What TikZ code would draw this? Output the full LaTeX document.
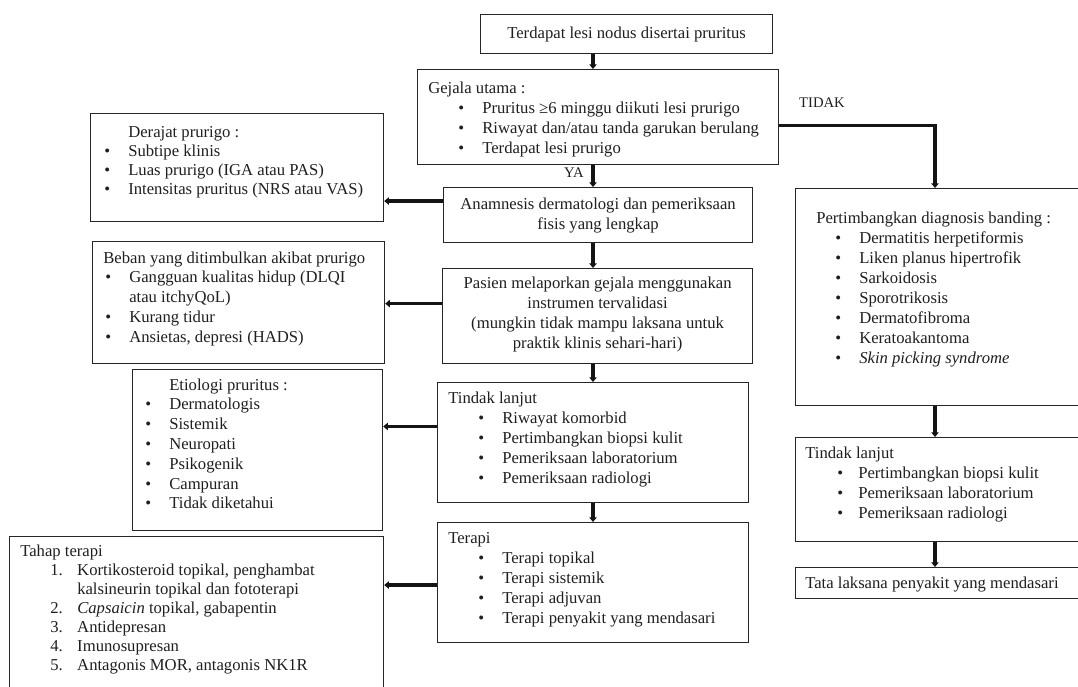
\documentclass[tikz,border=0pt]{standalone}
\usepackage{fontspec}
\setmainfont{Liberation Serif}
\usetikzlibrary{arrows.meta,calc}
\newlength\px \setlength\px{0.75pt}
\newcommand\bul[3]{\hspace*{#1\px}\makebox[#2\px][l]{\textbullet}#3}
\newcommand\numi[4]{\hspace*{#1\px}\makebox[#2\px][l]{#3}#4}
\newcommand\bx[5]{\node[box, minimum width={(#4-#2)*0.75pt}, minimum height={(#5-#3)*0.75pt}] (#1) at (#2,#3) {};}
\newcommand\lns[5]{\foreach \t [count=\i from 0] in {#5} {\node[ln] (#1-\i) at (#2,{#3+\i*#4}) {\t};}}
\begin{document}
\begin{tikzpicture}[x=0.75pt,y=-0.75pt,
  box/.style={draw=black!85, line width=0.9pt, inner sep=0, anchor=north west},
  ln/.style={anchor=base west, inner sep=0, font=\fontsize{12.5}{15}\selectfont, text=black!88},
  ctr/.style={align=center, inner sep=0, font=\fontsize{12.5}{15}\selectfont, text=black!88},
  arr/.style={line width=2.5pt, draw=black!92, -{Triangle[length=3.5pt,width=5.5pt]}},
  lbl/.style={font=\fontsize{11}{13}\selectfont, text=black!88, inner sep=0}]
\useasboundingbox (0,0) rectangle (1078,686);
\clip (0,0) rectangle (1078,686);
\fill[white] (0,0) rectangle (1078,686);

% boxes
\bx{b1}{480}{14}{772}{53}
\bx{b2}{417}{69}{778}{164}
\bx{b3}{443}{187}{752}{242}
\bx{b4}{442}{268}{752}{363}
\bx{b5}{437}{382}{748}{502}
\bx{b6}{437}{522}{748}{642}
\bx{b7}{90}{113}{383}{221}
\bx{b8}{92}{241}{384}{363}
\bx{b9}{132}{369}{382}{530}
\bx{b10}{9}{536}{383}{700}
\bx{b11}{795}{188}{1090}{405}
\bx{b12}{795}{437}{1090}{541}
\bx{b13}{795}{567}{1090}{598}

% texts
\node[ctr] (t1) at (b1.center) {Terdapat lesi nodus disertai pruritus};
\lns{t2}{428}{93}{20}{{Gejala utama :},{\bul{30}{24}{Pruritus ≥6 minggu diikuti lesi prurigo}},{\bul{30}{24}{Riwayat dan/atau tanda garukan berulang}},{\bul{30}{24}{Terdapat lesi prurigo}}}
\node[ctr] (t3) at (b3.center) {Anamnesis dermatologi dan pemeriksaan\\fisis yang lengkap};
\node[ctr] (t4) at ([yshift=1.5pt]b4.center) {Pasien melaporkan gejala menggunakan\\instrumen tervalidasi\\(mungkin tidak mampu laksana untuk\\praktik klinis sehari-hari)};
\lns{t5}{448}{403}{20}{{Tindak lanjut},{\bul{30}{24}{Riwayat komorbid}},{\bul{30}{24}{Pertimbangkan biopsi kulit}},{\bul{30}{24}{Pemeriksaan laboratorium}},{\bul{30}{24}{Pemeriksaan radiologi}}}
\lns{t6}{448}{543}{20}{{Terapi},{\bul{30}{24}{Terapi topikal}},{\bul{30}{24}{Terapi sistemik}},{\bul{30}{24}{Terapi adjuvan}},{\bul{30}{24}{Terapi penyakit yang mendasari}}}
\lns{t7}{104}{137}{19.3}{{\hspace*{24\px}Derajat prurigo :},{\bul{0}{24}{Subtipe klinis}},{\bul{0}{24}{Luas prurigo (IGA atau PAS)}},{\bul{0}{24}{Intensitas pruritus (NRS atau VAS)}}}
\lns{t8}{103}{263}{19.8}{{Beban yang ditimbulkan akibat prurigo},{\bul{2}{24}{Gangguan kualitas hidup (DLQI}},{\hspace*{26\px}atau itchyQoL)},{\bul{2}{24}{Kurang tidur}},{\bul{2}{24}{Ansietas, depresi (HADS)}}}
\lns{t9}{145}{390}{19.8}{{\hspace*{24\px}Etiologi pruritus :},{\bul{0}{24}{Dermatologis}},{\bul{0}{24}{Sistemik}},{\bul{0}{24}{Neuropati}},{\bul{0}{24}{Psikogenik}},{\bul{0}{24}{Campuran}},{\bul{0}{24}{Tidak diketahui}}}
\lns{t10}{20}{556}{19}{{Tahap terapi},{\numi{30}{27}{1.}{Kortikosteroid topikal, penghambat}},{\hspace*{57\px}kalsineurin topikal dan fototerapi},{\numi{30}{27}{2.}{\textit{Capsaicin} topikal, gabapentin}},{\numi{30}{27}{3.}{Antidepresan}},{\numi{30}{27}{4.}{Imunosupresan}},{\numi{30}{27}{5.}{Antagonis MOR, antagonis NK1R}}}
\lns{t11}{816}{223}{20}{{Pertimbangkan diagnosis banding :},{\bul{19}{24}{Dermatitis herpetiformis}},{\bul{19}{24}{Liken planus hipertrofik}},{\bul{19}{24}{Sarkoidosis}},{\bul{19}{24}{Sporotrikosis}},{\bul{19}{24}{Dermatofibroma}},{\bul{19}{24}{Keratoakantoma}},{\bul{19}{24}{\textit{Skin picking syndrome}}}}
\lns{t12}{805}{458}{20}{{Tindak lanjut},{\bul{32}{21}{Pertimbangkan biopsi kulit}},{\bul{32}{21}{Pemeriksaan laboratorium}},{\bul{32}{21}{Pemeriksaan radiologi}}}
\node[ln] (t13) at (805,588) {Tata laksana penyakit yang mendasari};

% labels
\node[lbl] (ya) at (574,173) {YA};
\node[lbl] (tidak) at (822,103) {TIDAK};

% connectors
\coordinate (spine) at (593,0);
\coordinate (rx) at (935,0);
\draw[arr] (b1.south -| spine) -- (b2.north -| spine);
\draw[arr] (b2.south -| spine) -- (b3.north -| spine);
\draw[arr] (b3.south -| spine) -- (b4.north -| spine);
\draw[arr] (b4.south -| spine) -- (b5.north -| spine);
\draw[arr] (b5.south -| spine) -- (b6.north -| spine);
\coordinate (a3) at ($(b3.north west)!0.25!(b3.south west)$);
\coordinate (a4) at ($(b4.north west)!0.37!(b4.south west)$);
\coordinate (a5) at ($(b5.north west)!0.367!(b5.south west)$);
\coordinate (a6) at ($(b6.north west)!0.52!(b6.south west)$);
\draw[arr] (a3) -- (a3 -| b7.east);
\draw[arr] (a4) -- (a4 -| b8.east);
\draw[arr] (a5) -- (a5 -| b9.east);
\draw[arr] (a6) -- (a6 -| b10.east);
\coordinate (a2) at ($(b2.north east)!0.59!(b2.south east)$);
\draw[arr] (a2) -| (b11.north -| rx);
\draw[arr] (b11.south -| rx) -- (b12.north -| rx);
\draw[arr] (b12.south -| rx) -- (b13.north -| rx);
\end{tikzpicture}
\end{document}
